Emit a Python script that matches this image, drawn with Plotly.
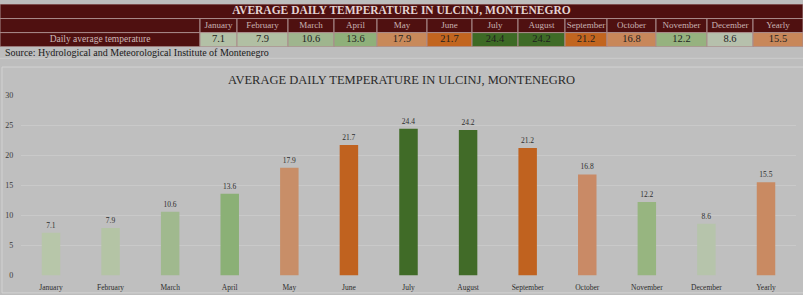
import plotly.graph_objects as go

months = ["January", "February", "March", "April", "May", "June", "July",
          "August", "September", "October", "November", "December", "Yearly"]
temps = [7.1, 7.9, 10.6, 13.6, 17.9, 21.7, 24.4, 24.2, 21.2, 16.8, 12.2, 8.6, 15.5]
bar_colors = ["#b7c6a9", "#b4c4a5", "#a0b98e", "#8bb076", "#c88e68", "#c0621f", "#406b27",
              "#416b28", "#c0621f", "#c98a66", "#97b580", "#b6c4ab", "#c98a62"]
cell_colors = ["#b3c0a6", "#b1bfa3", "#9fb58e", "#8fb07a", "#c8895a", "#c2651f", "#3d6a25",
               "#3f6b27", "#c2651f", "#c8875a", "#96b27f", "#b6c0ac", "#c8875a"]
col_widths = [200, 37, 51, 46, 43, 50, 45, 46, 47, 42, 49, 51, 46, 50]
row_label = "Daily average temperature"
title_text = "AVERAGE DAILY TEMPERATURE IN ULCINJ, MONTENEGRO"
source_text = "Source: Hydrological and Meteorological Institute of Montenegro"
yticks = [0, 5, 10, 15, 20, 25, 30]

W, H = 803, 295
MAROON = "#4f1010"
BG = "#bdbdbd"
SERIF = "Liberation Serif"
BORDER = "#a98b8b"

# table row extents (table-axis units)
ROW_TITLE = (0, 15)
ROW_HEAD = (15, 29.5)
ROW_DATA = (29.5, 44)
TABLE_H = 44


def py(px):
    return 1 - px / H


# column geometry from widths
lefts = []
acc = 0
for w in col_widths:
    lefts.append(acc)
    acc += w
centers = [l + w / 2 for l, w in zip(lefts, col_widths)]
TABLE_W = acc

fig = go.Figure()

# ---- table cells as bars on a dedicated axis pair ----
cx, cw, cbase, ch, cfill = [], [], [], [], []
cx.append(TABLE_W / 2); cw.append(TABLE_W); cbase.append(ROW_TITLE[0])
ch.append(ROW_TITLE[1] - ROW_TITLE[0]); cfill.append(MAROON)
for c, w in zip(centers, col_widths):
    cx.append(c); cw.append(w); cbase.append(ROW_HEAD[0])
    ch.append(ROW_HEAD[1] - ROW_HEAD[0]); cfill.append(MAROON)
for i, (c, w) in enumerate(zip(centers, col_widths)):
    cx.append(c); cw.append(w); cbase.append(ROW_DATA[0])
    ch.append(ROW_DATA[1] - ROW_DATA[0])
    cfill.append(MAROON if i == 0 else cell_colors[i - 1])

fig.add_trace(go.Bar(
    x=cx, y=ch, base=cbase, width=cw,
    marker=dict(color=cfill, line=dict(color=BORDER, width=1)),
    xaxis="x2", yaxis="y2", hoverinfo="skip",
))

# table texts
tx, ty, tt, tcol, tsize = [], [], [], [], []
tx.append(TABLE_W / 2); ty.append(sum(ROW_TITLE) / 2)
tt.append(f"<b>{title_text}</b>"); tcol.append("#e3d3d3"); tsize.append(11.5)
for c, m in zip(centers[1:], months):
    tx.append(c); ty.append(sum(ROW_HEAD) / 2); tt.append(m)
    tcol.append("#c9b3b3"); tsize.append(9)
tx.append(centers[0]); ty.append(sum(ROW_DATA) / 2); tt.append(row_label)
tcol.append("#cdb8b8"); tsize.append(9.5)
for c, v in zip(centers[1:], temps):
    tx.append(c); ty.append(sum(ROW_DATA) / 2); tt.append(f"{v:.1f}")
    tcol.append("#1e1e1e"); tsize.append(10.5)

fig.add_trace(go.Scatter(
    x=tx, y=ty, text=tt, mode="text", textposition="middle center",
    textfont=dict(family=SERIF, size=tsize, color=tcol),
    xaxis="x2", yaxis="y2", hoverinfo="skip", cliponaxis=False,
))

# ---- main bar chart ----
fig.add_trace(go.Bar(
    x=months, y=temps,
    marker=dict(color=bar_colors, line=dict(width=0)),
    text=[f"{v:.1f}" for v in temps],
    textposition="outside",
    textfont=dict(family=SERIF, size=7.5, color="#2e2e2e"),
    cliponaxis=False,
    width=0.31,
    hoverinfo="skip",
))

fig.update_layout(
    width=W, height=H,
    margin=dict(l=0, r=0, t=0, b=0),
    paper_bgcolor=BG, plot_bgcolor="rgba(0,0,0,0)",
    showlegend=False,
    barmode="overlay",
    font=dict(family=SERIF),
    xaxis=dict(domain=[21.2 / W, 795.8 / W], showgrid=False, showline=False,
               ticks="", ticklabelstandoff=6,
               tickfont=dict(family=SERIF, size=7.5, color="#2e2e2e"),
               zeroline=False),
    yaxis=dict(domain=[py(280), py(94)], range=[0, 30], tickvals=yticks,
               showgrid=True, gridcolor="#c9c9c9", gridwidth=1,
               zeroline=False, showline=False, ticks="", ticklabelstandoff=7,
               tickfont=dict(family=SERIF, size=8, color="#3a3a3a")),
    xaxis2=dict(domain=[0, 1], range=[0, TABLE_W], visible=False, anchor="y2"),
    yaxis2=dict(domain=[py(TABLE_H), 1], range=[TABLE_H, 0], visible=False, anchor="x2"),
    shapes=[
        dict(type="line", xref="paper", yref="paper", x0=0, x1=1, y0=py(56), y1=py(56),
             line=dict(color="#cccccc", width=1)),
        dict(type="rect", xref="paper", yref="paper", x0=2 / W, x1=1.01, y0=-0.01, y1=py(65),
             fillcolor="#bfbfbf", line=dict(color="#d2d2d2", width=1), layer="below"),
    ],
    annotations=[
        dict(text=source_text, xref="paper", yref="paper", x=3 / W, y=py(50),
             showarrow=False, xanchor="left", yanchor="middle",
             font=dict(family=SERIF, size=10, color="#1a1a1a")),
        dict(text=title_text, xref="paper", yref="paper", x=0.5, y=py(78),
             showarrow=False, xanchor="center", yanchor="middle",
             font=dict(family=SERIF, size=12.5, color="#2a2a2a")),
    ],
)

fig.write_html("out.html")
